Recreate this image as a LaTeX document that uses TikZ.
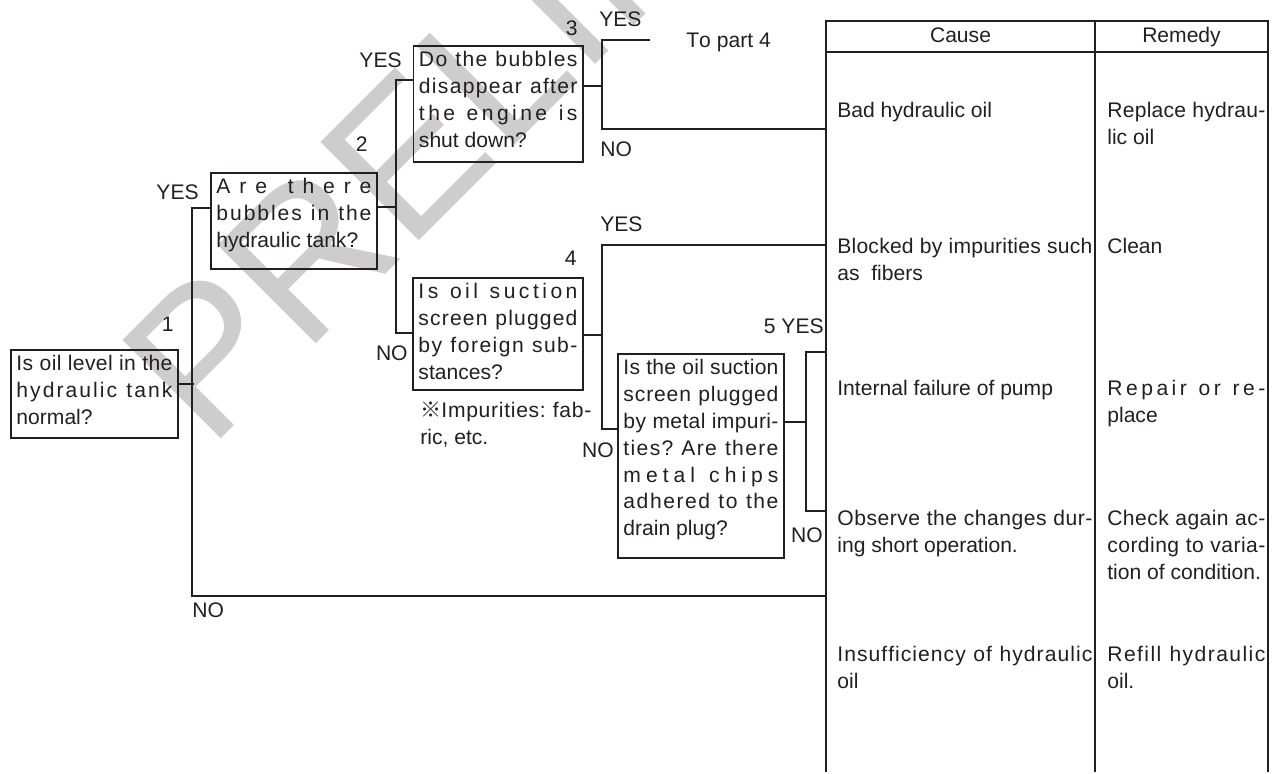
\documentclass[tikz,border=0pt]{standalone}
\usepackage{fontspec}
\setmainfont{Liberation Sans}
\newfontfamily\cjkfont{Noto Sans CJK JP}
\usetikzlibrary{positioning}
\definecolor{ink}{RGB}{35,31,32}
\definecolor{wmgrey}{RGB}{205,205,205}
% letters get a little stretch between them, so justified lines spread out
\newXeTeXintercharclass\spreadclass
\count255=`A \loop\XeTeXcharclass\count255=\spreadclass \ifnum\count255<`Z \advance\count255 by 1 \repeat
\count255=`a \loop\XeTeXcharclass\count255=\spreadclass \ifnum\count255<`z \advance\count255 by 1 \repeat
\XeTeXcharclass`\?=\spreadclass \XeTeXcharclass`\.=\spreadclass
\XeTeXcharclass`\,=\spreadclass \XeTeXcharclass`\:=\spreadclass
\XeTeXcharclass`\-=\spreadclass
\XeTeXinterchartoks\spreadclass\spreadclass={\nobreak\hskip 0pt plus 1pt\relax}
\newcommand{\chartfont}{\fontsize{12}{15.3}\selectfont\frenchspacing\XeTeXinterchartokenstate=1 }

\begin{document}
\begin{tikzpicture}[
    ques/.style={draw=ink, line width=1.1pt, text=ink, font=\chartfont, align=justify,
                 inner xsep=1.1mm, inner ysep=1mm, text height=3.1mm, anchor=north west},
    cell/.style={font=\chartfont, text=ink, inner sep=0pt, align=justify,
                 text height=3.1mm, anchor=north west},
    lbl/.style={font=\chartfont, text=ink, inner sep=0pt},
    wmark/.style={font=\fontsize{115}{115}\selectfont, text=wmgrey, inner sep=0pt},
    wire/.style={draw=ink, line width=1.1pt},
    rule/.style={draw=ink, line width=1pt}
  ]
  \useasboundingbox (0,0) rectangle (25.52,15.46);

  % ---------------- stamp ----------------
  \begin{scope}
    \clip (0,0) rectangle (25.52,15.46);
    \node[wmark, rotate=45, anchor=base west] (wm) at (4.18,6.44) {PRELIMINARY};
  \end{scope}

  % ---------------- questions ----------------
  \node[ques, text width=3.12cm, text depth=12.5mm] (q1) at (0.2,8.48)
    {Is oil level in the\linebreak hydraulic tank\linebreak normal?};
  \node[ques, text width=3.10cm, text depth=14.1mm] (q2) at (4.2,12.02)
    {Are there\linebreak bubbles in the\linebreak hydraulic tank?};
  \node[ques, text width=3.17cm, text depth=18.1mm] (q3) at (8.25,14.56)
    {Do the bubbles\linebreak disappear after\linebreak the engine is\linebreak shut down?};
  \node[ques, text width=3.18cm, text depth=17.3mm] (q4) at (8.24,9.92)
    {Is oil suction\linebreak screen plugged\linebreak by foreign sub-\linebreak stances?};
  \node[ques, text width=3.10cm, text depth=35.7mm] (q5) at (12.34,8.40)
    {Is the oil suction\linebreak screen plugged\linebreak by metal impuri-\linebreak ties? Are there\linebreak
     metal chips\linebreak adhered to the\linebreak drain plug?};
  \node[cell, text width=3.42cm] (note) at (8.40,7.43) {{\cjkfont ※}Impurities: fab-\linebreak ric, etc.};

  % step numbers
  \node[lbl, anchor=base east] (n1) at (3.48,8.84) {1};
  \node[lbl, anchor=base east] (n2) at (7.36,12.42) {2};
  \node[lbl, anchor=base east] (n3) at (11.56,14.74) {3};
  \node[lbl, anchor=base east] (n4) at (11.54,10.16) {4};

  % ---------------- table ----------------
  \coordinate (tl) at (16.52,15.04);
  \coordinate (tm) at (21.90,15.04);
  \coordinate (tr) at (25.36,15.04);
  \draw[rule] (tl |- 0,0.02) -- (tl) -- (tr) -- (tr |- 0,0.02);
  \draw[rule] (tm) -- (tm |- 0,0.02);
  \draw[rule] (tl |- 0,14.42) -- (tr |- 0,14.42);
  \node[lbl, anchor=base] (hc) at (19.21,14.60) {Cause};
  \node[lbl, anchor=base] (hr) at (23.63,14.60) {Remedy};

  \node[cell, text width=5.10cm] (c1) at (16.74,13.43) {Bad hydraulic oil};
  \node[cell, text width=5.10cm] (c2) at (16.74,10.71) {Blocked by impurities such\linebreak as\ \ fibers};
  \node[cell, text width=5.10cm] (c3) at (16.74,7.87) {Internal failure of pump};
  \node[cell, text width=5.10cm] (c4) at (16.74,5.27) {Observe the changes dur-\linebreak ing short operation.};
  \node[cell, text width=5.10cm] (c5) at (16.74,2.55) {Insufficiency of hydraulic\linebreak oil};
  \node[cell, text width=3.16cm] (m1) at (22.14,13.43) {Replace hydrau-\linebreak lic oil};
  \node[cell, text width=3.16cm] (m2) at (22.14,10.71) {Clean};
  \node[cell, text width=3.16cm] (m3) at (22.14,7.87) {Repair or re-\linebreak place};
  \node[cell, text width=3.16cm] (m4) at (22.14,5.27) {Check again ac-\linebreak cording to varia-\linebreak tion of condition.};
  \node[cell, text width=3.16cm] (m5) at (22.14,2.55) {Refill hydraulic\linebreak oil.};

  % row ends on the table edge
  \coordinate (r1) at (16.52,12.88);
  \coordinate (r2) at (16.52,10.56);
  \coordinate (r3) at (16.52,8.42);
  \coordinate (r4) at (16.52,5.24);
  \coordinate (k1) at (3.84,3.54);
  \coordinate (k3) at (13.0,14.66);

  % ---------------- branches ----------------
  % 1
  \draw[wire] ([yshift=-7mm]q1.north east) -- ++(0.30,0);
  \draw[wire] ([yshift=-7.2mm]q2.north west) -| (k1) -- (k1 -| tl);
  \node[lbl, anchor=base east] (y1) at (3.98,11.46) {YES};
  \node[lbl, anchor=base west] (x1) at (3.84,3.12) {NO};
  % 2
  \draw[wire] ([yshift=-7mm]q2.north east) -- ++(0.36,0) coordinate (s2);
  \draw[wire] ([yshift=-7mm]q3.north west) -| (s2) |- ([yshift=-11.2mm]q4.north west);
  \node[lbl, anchor=base east] (y2) at (8.04,14.10) {YES};
  \node[lbl, anchor=base east] (x2) at (8.16,8.26) {NO};
  % 3
  \draw[wire] ([yshift=-8.2mm]q3.north east) -- ++(0.36,0) coordinate (s3);
  \draw[wire] (k3) -| (s3) |- (r1);
  \node[lbl, anchor=base west] (y3) at (11.98,14.92) {YES};
  \node[lbl, anchor=base west] (part4) at (13.72,14.50) {To part 4};
  \node[lbl, anchor=base west] (x3) at (12.0,12.32) {NO};
  % 4
  \draw[wire] ([yshift=-11.6mm]q4.north east) -- ++(0.36,0) coordinate (s4);
  \draw[wire] (r2) -| (s4) |- ([yshift=-15.2mm]q5.north west);
  \node[lbl, anchor=base west] (y4) at (12.0,10.82) {YES};
  \node[lbl, anchor=base east] (x4) at (12.28,6.32) {NO};
  % 5
  \draw[wire] ([yshift=-13.8mm]q5.north east) -- ++(0.42,0) coordinate (s5);
  \draw[wire] (r3) -| (s5) |- (r4);
  \node[lbl, anchor=base east] (y5) at (16.48,8.80) {5 YES};
  \node[lbl, anchor=base east] (x5) at (16.46,4.62) {NO};
\end{tikzpicture}
\end{document}
